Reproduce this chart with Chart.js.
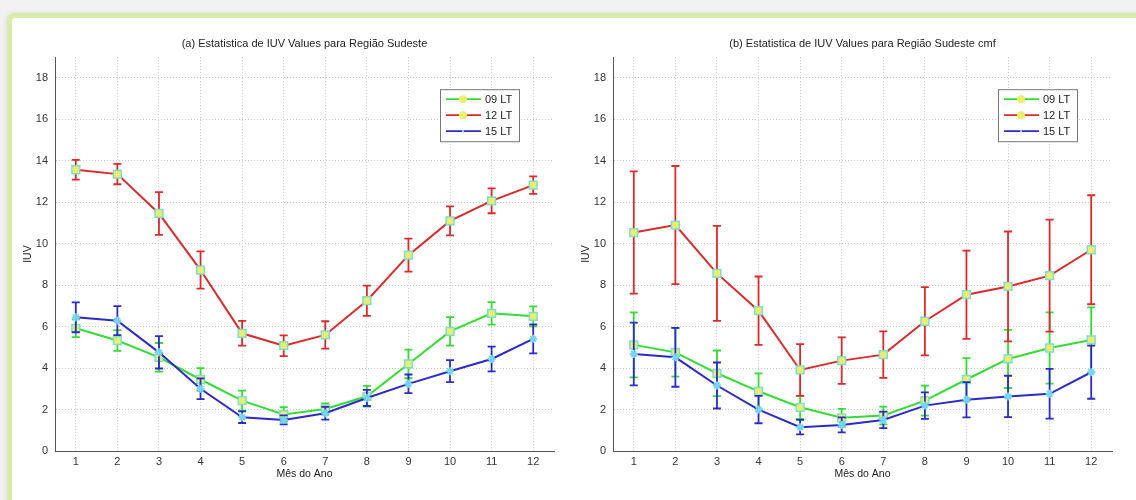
<!DOCTYPE html>
<html>
<head>
<meta charset="utf-8">
<script src="https://cdn.jsdelivr.net/npm/chart.js@4/dist/chart.umd.min.js"></script>
<style>
  html, body { margin: 0; padding: 0; background: #f2f2f2; overflow: hidden; }
  #frame {
    position: absolute; left: 7px; top: 13px; width: 1200px; height: 600px;
    background: #fff;
    border-left: 5px solid #d7ebab; border-top: 5px solid #d7ebab;
    border-top-left-radius: 8px;
    box-shadow: -2px -1px 4px rgba(0,0,0,0.06);
  }
  canvas { position: absolute; top: 0; }
</style>
</head>
<body>
<div id="frame"></div>
<canvas id="chartA" width="570" height="500" style="left:0"></canvas>
<canvas id="chartB" width="570" height="500" style="left:558px"></canvas>
<script>
const months = [1, 2, 3, 4, 5, 6, 7, 8, 9, 10, 11, 12];
const yTicks = [0, 2, 4, 6, 8, 10, 12, 14, 16, 18];
const seriesLabels = ['09 LT', '12 LT', '15 LT'];

// (a) Regiao Sudeste
const iuv09A = [5.92, 5.33, 4.52, 3.45, 2.43, 1.76, 2.03, 2.64, 4.20, 5.77, 6.64, 6.50];
const err09A = [0.43, 0.50, 0.69, 0.55, 0.48, 0.35, 0.27, 0.50, 0.69, 0.69, 0.54, 0.48];
const iuv12A = [13.57, 13.36, 11.46, 8.73, 5.68, 5.08, 5.60, 7.25, 9.45, 11.10, 12.07, 12.83];
const err12A = [0.48, 0.49, 1.03, 0.90, 0.60, 0.50, 0.66, 0.73, 0.80, 0.70, 0.60, 0.42];
const iuv15A = [6.45, 6.29, 4.76, 3.00, 1.63, 1.50, 1.82, 2.56, 3.24, 3.85, 4.44, 5.41];
const err15A = [0.72, 0.70, 0.78, 0.50, 0.28, 0.22, 0.31, 0.39, 0.45, 0.53, 0.60, 0.70];

// (b) Regiao Sudeste cmf
const iuv09B = [5.12, 4.76, 3.75, 2.88, 2.11, 1.60, 1.71, 2.43, 3.45, 4.44, 4.97, 5.36];
const err09B = [1.57, 1.17, 1.10, 0.87, 0.56, 0.43, 0.43, 0.72, 1.03, 1.40, 1.72, 1.57];
const iuv12B = [10.54, 10.90, 8.57, 6.77, 3.91, 4.36, 4.65, 6.26, 7.54, 7.94, 8.46, 9.71];
const err12B = [2.95, 2.85, 2.29, 1.65, 1.25, 1.12, 1.12, 1.65, 2.13, 2.65, 2.70, 2.63];
const iuv15B = [4.68, 4.52, 3.16, 2.00, 1.15, 1.26, 1.50, 2.19, 2.47, 2.63, 2.76, 3.80];
const err15B = [1.51, 1.42, 1.11, 0.66, 0.35, 0.36, 0.40, 0.64, 0.85, 1.00, 1.20, 1.28];

const GREEN = '#35dc35', RED = '#d92b2b', BLUE = '#2b2bc8';
const FONT = "'Liberation Sans', Arial, sans-serif";
Chart.defaults.font.family = FONT;
Chart.defaults.color = '#333';

// vertical error bars with caps, drawn under each dataset's own line
const errorBars = {
  id: 'errorBars',
  beforeDatasetDraw(chart, args) {
    const ds = chart.data.datasets[args.index];
    if (!ds.errors) return;
    const { ctx, chartArea } = chart;
    const ys = chart.scales.y;
    ctx.save();
    ctx.beginPath();
    ctx.rect(chartArea.left, chartArea.top, chartArea.right - chartArea.left, chartArea.bottom - chartArea.top);
    ctx.clip();
    ctx.strokeStyle = ds.borderColor;
    ctx.lineWidth = 1.8;
    args.meta.data.forEach((pt, i) => {
      const v = ds.data[i].y, e = ds.errors[i];
      const t = ys.getPixelForValue(v + e), b = ys.getPixelForValue(v - e);
      ctx.beginPath();
      ctx.moveTo(pt.x, t); ctx.lineTo(pt.x, b);
      ctx.moveTo(pt.x - 4, t); ctx.lineTo(pt.x + 4, t);
      ctx.moveTo(pt.x - 4, b); ctx.lineTo(pt.x + 4, b);
      ctx.stroke();
    });
    ctx.restore();
  }
};

// MATLAB-like boxed legend in the upper right of the axes
const boxLegend = {
  id: 'boxLegend',
  afterDatasetsDraw(chart) {
    const { ctx, chartArea } = chart;
    const w = 79, h = 52;
    const x = chartArea.right - 35 - w, y = chartArea.top + 32;
    ctx.save();
    ctx.fillStyle = '#fff';
    ctx.fillRect(x, y, w, h);
    ctx.strokeStyle = '#777';
    ctx.lineWidth = 1;
    ctx.strokeRect(x + 0.5, y + 0.5, w, h);
    ctx.font = '11px ' + FONT;
    ctx.textBaseline = 'middle';
    chart.data.datasets.forEach((ds, i) => {
      const ry = y + 10 + i * 16;
      ctx.strokeStyle = ds.borderColor;
      ctx.lineWidth = 1.8;
      ctx.beginPath();
      ctx.moveTo(x + 6, ry); ctx.lineTo(x + 41, ry);
      ctx.stroke();
      if (ds.legendDot) {
        ctx.fillStyle = '#e9f06a';
        ctx.beginPath();
        ctx.arc(x + 23, ry, 4, 0, Math.PI * 2);
        ctx.fill();
      } else {
        ctx.fillStyle = '#8fdcf2';
        ctx.fillRect(x + 22, ry - 1, 2, 2);
      }
      ctx.fillStyle = '#222';
      ctx.fillText(ds.label, x + 45, ry + 0.5);
    });
    ctx.restore();
  }
};

function points(vals) {
  return months.map((m, i) => ({ x: m, y: vals[i] }));
}

function makeChart(id, title, s09, e09, s12, e12, s15, e15) {
  const squareMarker = {
    pointStyle: 'rect', pointRadius: 5.5, pointBackgroundColor: '#e6ef72',
    pointBorderColor: '#82dcc8', pointBorderWidth: 1.5, legendDot: true,
  };
  return new Chart(document.getElementById(id), {
    type: 'line',
    data: {
      datasets: [
        { label: seriesLabels[0], data: points(s09), errors: e09, borderColor: GREEN, borderWidth: 2, order: 3, ...squareMarker },
        { label: seriesLabels[1], data: points(s12), errors: e12, borderColor: RED, borderWidth: 2, order: 2, ...squareMarker },
        {
          label: seriesLabels[2], data: points(s15), errors: e15, borderColor: BLUE, borderWidth: 2, order: 1,
          pointStyle: 'star', pointRadius: 4, pointBorderColor: '#74d6f4', pointBorderWidth: 1.8, legendDot: false,
        },
      ],
    },
    options: {
      responsive: false,
      animation: false,
      layout: { padding: { left: 0, right: 16, top: 0, bottom: 0 } },
      plugins: {
        legend: { display: false },
        tooltip: { enabled: false },
        title: {
          display: true, text: title, fullSize: false, color: '#222',
          font: { size: 11, weight: 'normal', lineHeight: 1.2 },
          padding: { top: 37, bottom: 7 },
        },
      },
      scales: {
        x: {
          type: 'linear', min: 0.5, max: 12.5,
          afterBuildTicks: s => { s.ticks = months.map(v => ({ value: v })); },
          afterFit: s => { s.height = 49; },
          ticks: { color: '#333', font: { size: 11 }, padding: 4 },
          grid: { color: '#c6c6c6', drawTicks: false },
          border: { color: '#555', width: 1, dash: [1, 2] },
          title: { display: true, text: 'Mês do Ano', color: '#222', font: { size: 10.5, lineHeight: 1.2 }, padding: { top: 0, bottom: 20 } },
        },
        y: {
          type: 'linear', min: 0, max: 19,
          afterBuildTicks: s => { s.ticks = yTicks.map(v => ({ value: v })); },
          afterFit: s => { s.width = 55; },
          ticks: { color: '#333', font: { size: 11 }, padding: 7 },
          grid: { color: '#c6c6c6', drawTicks: false },
          border: { color: '#555', width: 1, dash: [1, 2] },
          title: { display: true, text: 'IUV', color: '#222', font: { size: 10.5, lineHeight: 1.2 }, padding: { top: 22, bottom: 0 } },
        },
      },
    },
    plugins: [errorBars, boxLegend],
  });
}

makeChart('chartA', '(a) Estatistica de IUV Values para Região Sudeste', iuv09A, err09A, iuv12A, err12A, iuv15A, err15A);
makeChart('chartB', '(b) Estatistica de IUV Values para Região Sudeste cmf', iuv09B, err09B, iuv12B, err12B, iuv15B, err15B);
</script>
</body>
</html>
